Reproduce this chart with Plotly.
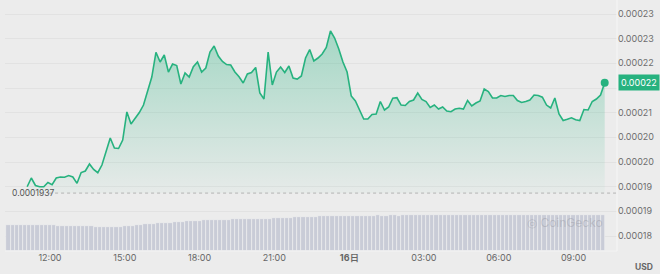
import pandas as pd
import plotly.graph_objects as go

# ---------------- data ----------------
# price in micro-USD (1e-6 USD), 10-minute steps starting 15th 11:05
price_micro = [
    194.99, 196.76, 195.24, 194.99, 194.99, 195.85, 195.40, 196.76, 196.96, 196.90,
    197.26, 196.96, 195.68, 197.87, 198.18, 199.59, 198.48, 197.83, 199.39, 202.23,
    204.87, 202.84, 202.74, 204.46, 210.14, 207.70, 208.86, 210.03, 211.55, 214.59,
    217.23, 222.24, 220.27, 221.69, 218.24, 219.86, 219.56, 215.81, 218.04, 217.23,
    219.32, 220.27, 218.24, 219.05, 222.30, 223.51, 221.49, 220.37, 219.76, 219.66,
    218.24, 217.29, 216.01, 217.84, 218.14, 219.16, 213.99, 212.77, 222.30, 215.61,
    218.24, 219.26, 218.14, 219.46, 217.03, 216.82, 217.43, 221.08, 222.80, 220.47,
    221.08, 221.89, 223.21, 226.55, 225.14, 222.91, 220.27, 218.24, 213.38, 212.37,
    210.54, 208.72, 208.72, 209.63, 209.73, 212.26, 210.54, 211.15, 212.93, 213.03,
    211.55, 211.45, 212.26, 212.57, 213.99, 212.67, 212.26, 211.05, 211.55, 210.74,
    211.15, 210.34, 210.20, 210.74, 210.89, 210.74, 212.47, 211.35, 211.96, 212.37,
    214.80, 214.29, 212.97, 212.97, 213.48, 213.28, 213.48, 213.48, 212.47, 212.06,
    212.26, 212.57, 213.58, 213.48, 213.14, 211.55, 210.95, 212.97, 209.73, 208.41,
    208.66, 208.96, 208.55, 208.41, 210.64, 210.54, 212.26, 212.77, 213.58, 216.07,
]
price_start = "2024-05-15 11:05"

# 24h volume bars (arbitrary units), 10-minute steps starting 15th 10:20
volume = [
    26.0, 26.1, 26.0, 26.2, 26.0, 26.1, 26.0, 25.9, 26.0, 25.8, 25.7, 25.6, 25.5,
    25.3, 25.2, 25.1, 25.0, 25.0, 24.9, 24.8, 24.7, 24.5,
    24.3, 24.2, 24.1, 24.1, 24.2, 24.4, 24.7,
    25.0, 25.4, 25.8, 26.2, 26.6, 27.0, 27.3,
    27.6, 27.9, 28.2, 28.5, 28.8, 29.1, 29.4,
    29.7, 30.0, 30.2, 30.4, 30.6, 30.8, 31.0, 31.2,
    31.3, 31.4, 31.5, 31.6, 31.7, 31.8, 31.9, 32.0, 32.1, 32.2,
    32.3, 32.4, 32.5, 32.6, 32.8, 33.0, 33.2, 33.4, 33.6, 33.8,
    34.0, 34.2, 34.4, 34.5, 34.6, 34.7, 34.8, 34.9, 35.0, 35.1,
    35.2, 35.3, 35.3, 35.4, 35.4, 35.5, 35.4, 35.5, 35.6, 35.5,
    35.5, 35.6, 35.6, 35.5, 35.6, 35.7, 35.6, 35.6, 35.7, 35.7,
    35.6, 35.7, 35.8, 35.7, 35.7, 35.8, 35.8, 35.7, 35.8, 35.8,
    35.9, 35.8, 35.8, 35.9, 35.9, 35.8, 35.9, 35.9, 36.0, 35.9,
    35.9, 36.0, 36.0, 35.9, 36.0, 36.0, 36.1, 36.0, 36.0, 36.1,
    36.1, 36.0, 36.1, 36.1, 36.2, 36.1, 36.1, 36.2, 36.2, 36.1,
    36.2, 36.2, 36.2,
]
volume_start = "2024-05-15 10:20"

baseline_value = 0.0001937
baseline_label = "0.0001937"
current_label = "0.00022"

y_tick_vals = [0.000230, 0.000225, 0.000220, 0.000215, 0.000210,
               0.000205, 0.000200, 0.000195, 0.000190, 0.000185]
# the 0.000215 label sits under the current-price box in the reference
y_tick_text = ["0.00023", "0.00023", "0.00022", "", "0.00021",
               "0.00020", "0.00020", "0.00019", "0.00019", "0.00018"]

x_tick_vals = ["2024-05-15 12:00", "2024-05-15 15:00", "2024-05-15 18:00",
               "2024-05-15 21:00", "2024-05-16 00:00", "2024-05-16 03:00",
               "2024-05-16 06:00", "2024-05-16 09:00"]
x_tick_text = ["12:00", "15:00", "18:00", "21:00", "<b>16日</b>",
               "03:00", "06:00", "09:00"]

# ---------------- figure ----------------
prices = [v * 1e-6 for v in price_micro]
price_times = pd.date_range(price_start, periods=len(prices), freq="10min")
vol_times = pd.date_range(volume_start, periods=len(volume), freq="10min")

GREEN = "#27b27f"
BG = "#ececec"

fig = go.Figure()

# hidden baseline for the area fill
fig.add_trace(go.Scatter(
    x=price_times, y=[baseline_value] * len(prices), mode="lines",
    line=dict(width=0, color="rgba(0,0,0,0)"), hoverinfo="skip", showlegend=False))

fig.add_trace(go.Scatter(
    x=price_times, y=prices, mode="lines",
    line=dict(color=GREEN, width=1.6),
    fill="tonexty",
    fillgradient=dict(type="vertical",
                      colorscale=[[0, "rgba(39,178,127,0.03)"],
                                  [1, "rgba(39,178,127,0.36)"]],
                      start=baseline_value, stop=max(prices)),
    showlegend=False))

fig.add_trace(go.Scatter(
    x=[price_times[-1]], y=[prices[-1]], mode="markers",
    marker=dict(size=8, color=GREEN), showlegend=False))

fig.add_trace(go.Bar(
    x=vol_times, y=volume, yaxis="y2",
    marker=dict(color="#c9ccd7", line=dict(color="#f1f1f4", width=0.6)),
    showlegend=False))

fig.update_layout(
    width=660, height=274,
    margin=dict(l=5, r=43, t=0, b=23),
    paper_bgcolor=BG, plot_bgcolor=BG,
    font=dict(family="Inter, Roboto, sans-serif", size=9, color="#666666"),
    bargap=0,
    showlegend=False,
    xaxis=dict(
        type="date",
        range=["2024-05-15 10:11:42", "2024-05-16 10:44:36"],
        tickvals=x_tick_vals, ticktext=x_tick_text,
        showgrid=False, zeroline=False, showline=False, ticks="",
        tickfont=dict(size=9, color="#666666"),
    ),
    yaxis=dict(
        side="right",
        range=[0.00018196, 0.00023284],
        tickvals=y_tick_vals, ticktext=y_tick_text,
        showgrid=True, gridcolor="#e2e2e2", gridwidth=1,
        zeroline=False, showline=False, ticks="",
        tickfont=dict(size=9, color="#6e6e6e"),
    ),
    yaxis2=dict(overlaying="y", range=[0, 251], visible=False),
)

# dotted baseline + label
fig.add_shape(type="line", xref="paper", yref="y", x0=0.072, x1=1,
              y0=baseline_value, y1=baseline_value,
              line=dict(color="#b3b3b3", width=1, dash="dot"))
fig.add_annotation(xref="paper", yref="y", x=0, y=baseline_value,
                   xanchor="left", yanchor="middle", xshift=5, showarrow=False,
                   text=baseline_label, font=dict(size=8.5, color="#555555"))

# right/bottom borders of the plot
fig.add_shape(type="line", xref="paper", yref="paper", x0=1, x1=1, y0=0, y1=1,
              line=dict(color="#f6f6f6", width=1))
fig.add_shape(type="line", xref="paper", yref="paper", x0=0, x1=1, y0=0, y1=0,
              line=dict(color="#f3f3f3", width=1))

# current price box
fig.add_annotation(xref="paper", yref="y", x=1, y=prices[-1], xanchor="left",
                   yanchor="middle", showarrow=False, text=current_label,
                   bgcolor=GREEN, borderpad=2, xshift=1,
                   font=dict(size=9, color="white"))

# USD label
fig.add_annotation(xref="paper", yref="paper", x=1, y=0, xanchor="left",
                   yanchor="top", xshift=16, yshift=-9, showarrow=False,
                   text="<b>USD</b>", font=dict(size=8.5, color="#666666"))

# watermark
fig.add_annotation(xref="paper", yref="paper", x=0.915, y=0.115,
                   xanchor="center", yanchor="middle", showarrow=False,
                   text="◎ CoinGecko", font=dict(size=12, color="rgba(140,140,150,0.35)"))

fig.write_html("out.html")
